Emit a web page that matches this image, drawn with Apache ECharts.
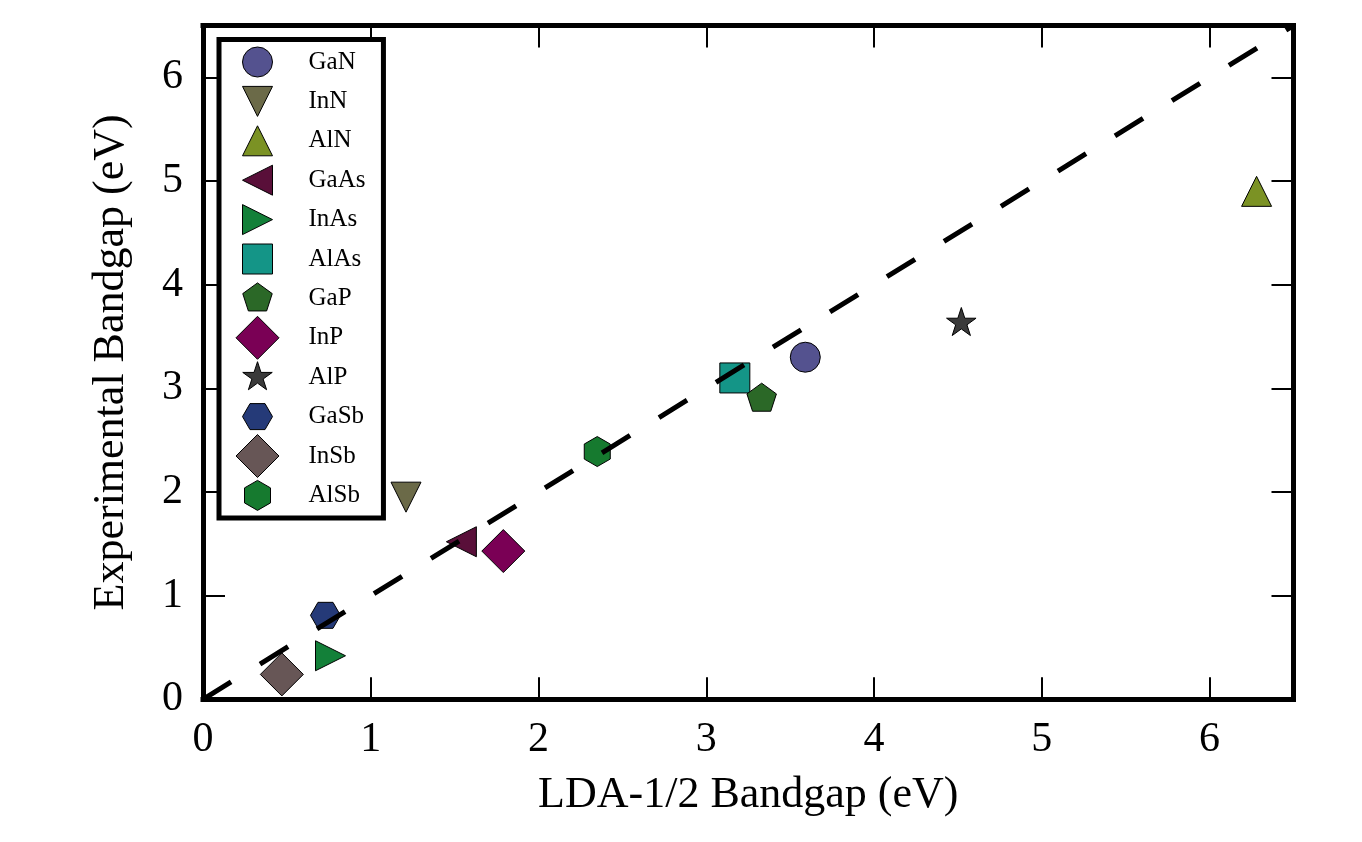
<!DOCTYPE html>
<html><head><meta charset="utf-8">
<script src="https://cdn.jsdelivr.net/npm/echarts@6/dist/echarts.min.js"></script>
<style>html,body{margin:0;padding:0;background:#fff}#c{width:1362px;height:842px}</style>
</head><body><div id="c"></div>
<script>
// ---- data ----
const names  = ['GaN','InN','AlN','GaAs','InAs','AlAs','GaP','InP','AlP','GaSb','InSb','AlSb'];
const ldaGap = [3.59, 1.21, 6.28, 1.54, 0.76, 3.17, 3.33, 1.79, 4.52, 0.73, 0.47, 2.35];
const expGap = [3.30, 1.95, 4.90, 1.52, 0.42, 3.10, 2.90, 1.43, 3.63, 0.81, 0.24, 2.39];
const colors = ['#54528f','#6b6a48','#7b9224','#590f39','#138039','#149587',
                '#2b6827','#7a0055','#3a3a3a','#253a78','#675656','#167a2f'];
const xTickLabels = ['0','1','2','3','4','5','6'];
const yTickLabels = ['0','1','2','3','4','5','6'];
const diagonal = [[0, 0], [6.5, 6.5]];

// ---- marker shapes (all in a common 44x44 box so relative sizes are kept) ----
const B = 'M0 0 M44 44 ';
const shapes = {
  circle:  B + 'M7 22 A15 15 0 1 1 37 22 A15 15 0 1 1 7 22 Z',
  down:    B + 'M7 7 L37 7 L22 37 Z',
  up:      B + 'M22 7 L37 37 L7 37 Z',
  left:    B + 'M7 22 L37 7 L37 37 Z',
  right:   B + 'M37 22 L7 7 L7 37 Z',
  square:  B + 'M7 7 L37 7 L37 37 L7 37 Z',
  penta:   B + 'M22 6.5 L36.74 17.21 L31.11 34.54 L12.89 34.54 L7.26 17.21 Z',
  diamond: B + 'M22 0.5 L43.5 22 L22 43.5 L0.5 22 Z',
  star:    B + 'M22 6.5 L25.48 17.21 L36.74 17.21 L27.63 23.83 L31.11 34.54 L22 27.92 L12.89 34.54 L16.37 23.83 L7.26 17.21 L18.52 17.21 Z',
  hexH:    B + 'M37 22 L29.5 35 L14.5 35 L7 22 L14.5 9 L29.5 9 Z',
  hexV:    B + 'M22 7 L35 14.5 L35 29.5 L22 37 L9 29.5 L9 14.5 Z'
};
const markers = ['circle','down','up','left','right','square','penta','diamond','star','hexH','diamond','hexV'];

const FONT = 'Liberation Serif';
const SYM = 44;

const scatterSeries = names.map((n, i) => ({
  name: n,
  type: 'scatter',
  data: [[ldaGap[i], expGap[i]]],
  symbol: 'path://' + shapes[markers[i]],
  symbolSize: SYM,
  itemStyle: { color: colors[i], borderColor: '#000', borderWidth: 1, opacity: 1 },
  z: 2,
  silent: true
}));

const lineSeries = {
  name: 'diag',
  type: 'line',
  data: diagonal,
  symbol: 'none',
  lineStyle: { color: '#000', width: 5, type: [33, 34], cap: 'butt' },
  z: 5,
  silent: true,
  animation: false
};

function baseAxis(extra) {
  return Object.assign({
    type: 'value', min: 0, max: 6.5, interval: 1,
    splitLine: { show: false },
    axisLine: { show: true, onZero: false, lineStyle: { color: '#000', width: 5, cap: 'square' } },
    axisTick: { show: true, inside: true, length: 22, lineStyle: { color: '#000', width: 2 } },
  }, extra);
}

const option = {
  animation: false,
  backgroundColor: '#fff',
  grid: { left: 203, right: 68.5, top: 25.5, bottom: 142.7, containLabel: false },
  xAxis: [
    baseAxis({
      position: 'bottom',
      name: 'LDA-1/2 Bandgap (eV)', nameLocation: 'middle', nameGap: 74,
      nameTextStyle: { fontFamily: FONT, fontSize: 44, color: '#000' },
      axisLabel: { show: true, margin: 20, fontFamily: FONT, fontSize: 42, color: '#000',
        showMaxLabel: false, formatter: v => (Number.isInteger(v) ? xTickLabels[v] : '') }
    }),
    baseAxis({ position: 'top', axisLabel: { show: false } })
  ],
  yAxis: [
    baseAxis({
      position: 'left',
      name: 'Experimental Bandgap (eV)', nameLocation: 'middle', nameGap: 70, nameRotate: 90,
      nameTextStyle: { fontFamily: FONT, fontSize: 44, color: '#000' },
      axisLabel: { show: true, margin: 20, fontFamily: FONT, fontSize: 42, color: '#000',
        showMaxLabel: false, formatter: v => (Number.isInteger(v) ? yTickLabels[v] : '') }
    }),
    baseAxis({ position: 'right', axisLabel: { show: false } })
  ],
  legend: {
    data: names,
    orient: 'vertical',
    left: 219, top: 39.5,
    padding: [0, 18, 0, 16],
    itemWidth: SYM, itemHeight: SYM,
    itemGap: -5.6,
    selectedMode: false,
    backgroundColor: '#fff',
    borderColor: '#000', borderWidth: 5, borderRadius: 0,
    itemStyle: { borderColor: '#000', borderWidth: 1 },
    textStyle: { fontFamily: FONT, fontSize: 25, color: '#000', padding: [0, 0, 0, 24] }
  },
  series: scatterSeries.concat([lineSeries])
};

const chart = echarts.init(document.getElementById('c'));
chart.setOption(option);
</script>
</body></html>
